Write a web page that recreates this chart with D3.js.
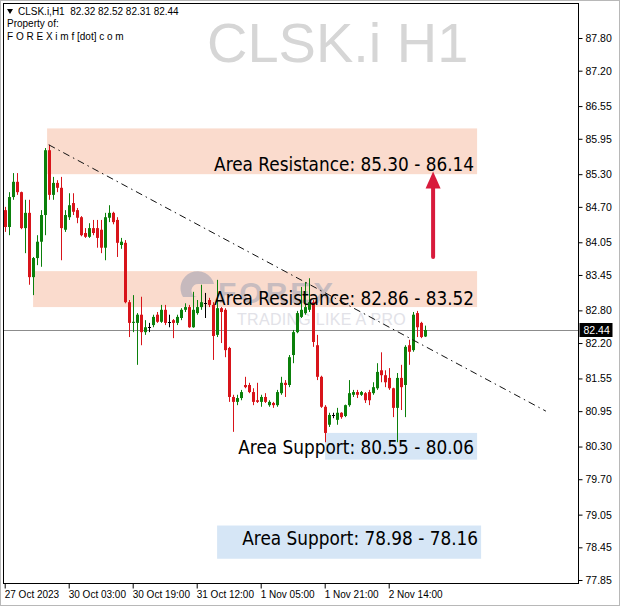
<!DOCTYPE html>
<html><head><meta charset="utf-8">
<script src="https://cdn.jsdelivr.net/npm/d3@7/dist/d3.min.js"></script>
<style>
html,body{margin:0;padding:0;background:#fff;}
svg{display:block;}
</style></head>
<body>
<svg id="c" width="620" height="606" font-family="Liberation Sans, Arial, sans-serif"></svg>
<script>
// ---- data ----
const opens  = [84.64,84.33,84.88,85.16,84.97,84.31,84.59,83.41,83.76,84.06,84.55,85.74,84.92,85.14,85.05,84.28,84.51,84.77,84.64,84.51,84.22,84.15,84.31,84.31,84.28,83.95,84.50,84.59,84.46,84.00,
84.04,82.95,82.57,82.57,82.72,82.40,82.49,82.53,82.72,82.59,82.81,82.59,82.62,82.57,82.66,82.81,82.86,82.49,82.75,82.86,82.93,82.99,82.90,82.35,82.84,82.81,82.11,81.21,81.12,81.19,
81.43,81.43,81.30,81.15,81.12,81.21,81.06,81.10,81.06,81.28,81.47,81.43,81.98,82.40,82.68,82.75,82.81,82.95,82.16,81.58,81.03,80.70,80.88,80.79,80.92,80.86,81.06,81.25,81.30,81.25,
81.28,81.30,81.28,81.37,81.70,81.61,81.56,81.37,81.01,81.56,81.43,82.16,82.07,82.75,82.57,82.32];
const highs  = [84.70,84.97,85.32,85.32,84.98,84.83,84.83,83.78,84.18,84.64,85.78,85.84,85.25,85.19,85.25,84.64,84.95,84.95,84.68,84.53,84.31,84.40,84.46,84.46,84.46,84.59,84.73,84.61,84.51,84.13,
84.09,82.99,83.08,82.75,83.05,82.62,82.57,82.72,82.77,82.90,82.90,82.72,82.64,82.72,82.84,82.93,82.90,83.14,82.99,83.27,83.12,83.03,82.95,83.36,82.86,82.84,82.13,81.25,81.25,81.34,
81.58,81.47,81.37,81.47,81.25,81.28,81.15,81.12,81.34,81.58,81.52,81.98,82.44,82.79,83.23,83.32,83.39,82.99,82.35,81.60,81.06,80.92,80.92,81.01,80.93,81.07,81.52,81.34,81.34,81.32,
81.30,81.34,81.48,81.83,82.03,81.70,81.74,81.38,81.65,81.80,82.16,82.26,82.77,82.79,82.59,82.52];
const lows   = [84.24,84.18,84.83,84.92,84.29,83.85,83.27,83.08,83.63,83.60,84.18,84.83,84.83,84.97,83.72,84.24,84.46,84.55,84.40,84.16,84.13,84.13,84.18,83.95,83.85,83.72,84.42,84.38,83.78,83.93,
82.93,82.31,82.40,81.80,82.16,82.35,82.40,82.49,82.57,82.57,82.53,82.49,82.29,82.53,82.62,82.77,82.48,82.48,82.72,82.81,82.66,82.86,81.89,82.31,82.20,81.94,81.12,80.57,81.06,81.15,
81.37,81.28,81.06,81.10,81.03,81.10,81.03,81.01,81.03,81.25,81.21,81.39,81.83,82.38,82.66,82.72,82.77,82.13,81.52,81.01,80.38,80.66,80.82,80.70,80.81,80.84,81.03,81.21,81.19,81.23,
81.10,81.06,81.25,81.34,81.48,81.39,81.34,80.84,80.38,80.97,80.84,81.80,82.04,82.31,82.29,82.31];
const closes = [84.33,84.88,85.16,84.97,84.31,84.59,83.41,83.76,84.06,84.55,85.74,84.92,85.14,85.05,84.31,84.55,84.73,84.61,84.50,84.18,84.15,84.31,84.22,84.13,83.95,84.51,84.59,84.42,84.04,84.06,
82.95,82.57,82.59,82.72,82.40,82.49,82.49,82.68,82.59,82.81,82.57,82.59,82.57,82.68,82.81,82.86,82.49,82.81,82.86,82.95,82.93,82.90,82.33,82.84,82.77,82.07,81.21,81.12,81.19,81.30,
81.39,81.30,81.12,81.12,81.21,81.12,81.12,81.06,81.30,81.47,81.43,81.94,82.40,82.75,82.81,82.86,82.95,82.22,81.58,81.03,80.55,80.88,80.88,80.92,80.84,81.06,81.28,81.30,81.25,81.30,
81.15,81.15,81.39,81.67,81.61,81.48,81.37,81.01,81.56,81.39,82.13,82.04,82.72,82.49,82.31,82.44];

const priceTicks = [87.80,87.20,86.55,85.95,85.30,84.70,84.05,83.45,82.80,82.20,81.55,80.95,80.30,79.70,79.05,78.45,77.85];
const timeTickIdx = [0,16,32,48,64,80,96];
const timeTickLabels = ["27 Oct 2023","30 Oct 03:00","30 Oct 19:00","31 Oct 12:00","1 Nov 05:00","1 Nov 21:00","2 Nov 14:00"];

// zones
const zoneNames  = ["Area Resistance: 85.30 - 86.14","Area Resistance: 82.86 - 83.52","Area Support: 80.55 - 80.06","Area Support: 78.98 - 78.16"];
const zoneKinds  = ["res","res","sup","sup"];
const zoneStart  = [10.6, 7.1, 80.1, 53.1];
const zoneEnd    = [118.1, 118.1, 118.1, 119.1];
const zoneTop    = [86.14, 83.52, 80.55, 78.85];
const zoneBottom = [85.30, 82.86, 80.06, 78.24];
const labelPrice = [85.33, 82.86, 80.12, 78.45];

const trendIdx   = [11, 135.3];
const trendPrice = [85.84, 80.95];
const arrowIdx = 107.1, arrowFrom = 83.78, arrowTo = 85.35;
const lastPrice = 82.44;

(function(){
// ---- scales ----
const svg = d3.select("#c");
const L = 3.5, R = 578.5, T = 3.5, B = 583.5;
const y = d3.scaleLinear().domain([77.85, 87.80]).range([580, 38]);
const x = d3.scaleLinear().domain([0, 105]).range([4.7, 424.7]);

// outer frame
svg.append("rect").attr("x",0.5).attr("y",0.5).attr("width",619).attr("height",605).attr("fill","#fff").attr("stroke","#b8b8b8");

svg.append("defs").append("clipPath").attr("id","plot").append("rect")
  .attr("x",L).attr("y",T).attr("width",R-L).attr("height",B-T);
const g = svg.append("g").attr("clip-path","url(#plot)");

// watermark
g.append("text").attr("x",207).attr("y",62).attr("font-size",56).attr("fill","#d6d6d6").text("CLSK.i H1");

// zones
zoneNames.forEach((n,i)=>{
  g.append("rect").attr("x",x(zoneStart[i])).attr("y",y(zoneTop[i]))
    .attr("width",x(zoneEnd[i])-x(zoneStart[i])).attr("height",y(zoneBottom[i])-y(zoneTop[i]))
    .attr("fill", zoneKinds[i]==="res" ? "#fadbcd" : "#d6e6f6");
});

// forex logo watermark
const wm = g.append("g").attr("opacity",0.6);
wm.append("path").attr("d","M183,297 A17,17 0 1 1 214,284 L199,284 A5,5 0 0 0 197,297 Z").attr("fill","#a4a4b4");
wm.append("text").attr("x",218).attr("y",303).attr("font-size",30).attr("font-weight","bold").attr("letter-spacing",3).attr("fill","#a8a8b6").text("FOREX");
g.append("text").attr("x",237).attr("y",325).attr("font-size",16).attr("letter-spacing",0.3).attr("fill","#e2e2e8").text("TRADING LIKE A PRO");

// last price line
g.append("line").attr("x1",L).attr("x2",R).attr("y1",Math.round(y(lastPrice))+0.5).attr("y2",Math.round(y(lastPrice))+0.5)
  .attr("stroke","#8c8c8c").attr("stroke-width",1);

// candles
const data = opens.map((o,i)=>({i,o,h:highs[i],l:lows[i],c:closes[i]}));
const colOf = d => d.c>d.o ? "#0b800b" : (d.c<d.o ? "#d8141a" : "#000");
const cg = g.append("g");
data.forEach(d=>{
  const cx = Math.round(x(d.i));
  const col = colOf(d);
  cg.append("line").attr("x1",cx+0.5).attr("x2",cx+0.5).attr("y1",y(d.h)).attr("y2",y(d.l)).attr("stroke",col).attr("stroke-width",1);
  const t = y(Math.max(d.o,d.c)), b = y(Math.min(d.o,d.c));
  if (d.c===d.o) {
    cg.append("line").attr("x1",cx-1).attr("x2",cx+2).attr("y1",Math.round(t)+0.5).attr("y2",Math.round(t)+0.5).attr("stroke",col);
  } else {
    cg.append("rect").attr("x",cx-1).attr("width",3).attr("y",t).attr("height",Math.max(1,b-t)).attr("fill",col);
  }
});

// trendline
g.append("line").attr("x1",x(trendIdx[0])).attr("y1",y(trendPrice[0])).attr("x2",x(trendIdx[1])).attr("y2",y(trendPrice[1]))
  .attr("stroke","#111").attr("stroke-width",1).attr("stroke-dasharray","7,4,1.5,4");

// arrow
const ax = x(arrowIdx);
g.append("line").attr("x1",ax).attr("x2",ax).attr("y1",y(arrowFrom)).attr("y2",y(arrowTo)+14)
  .attr("stroke","#d81b3c").attr("stroke-width",4).attr("stroke-linecap","round");
g.append("path").attr("d",`M${ax},${y(arrowTo)} L${ax-7.5},${y(arrowTo)+17} L${ax+7.5},${y(arrowTo)+17} Z`).attr("fill","#d81b3c");

// zone labels (Tahoma-like proportions)
const labels = zoneNames.map((n,i)=>
  g.append("text").attr("x", x(zoneEnd[i]) - 3).attr("y", y(labelPrice[i]) - 2)
    .attr("text-anchor","end").attr("font-size",18.4)
    .attr("font-family","'DejaVu Sans Condensed','DejaVu Sans',sans-serif")
    .attr("fill","#000").text(n));
const w0 = labels[0].node().getComputedTextLength();
if (w0 > 0 && Math.abs(w0 - 260) > 2) {
  const fs = 18.4 * 260 / w0;
  labels.forEach(t=>t.attr("font-size", fs));
}

// frame & axes
svg.append("rect").attr("x",L).attr("y",T).attr("width",R-L).attr("height",B-T)
  .attr("fill","none").attr("stroke","#000");

const yAxis = d3.axisRight(y).tickValues(priceTicks).tickSize(4).tickPadding(3).tickFormat(d3.format(".2f"));
const ya = svg.append("g").attr("transform",`translate(${R},0)`).call(yAxis);
ya.select(".domain").remove();
ya.attr("font-family",null);
ya.selectAll("text").attr("font-size",10.5).attr("fill","#000");
ya.selectAll("line").attr("stroke","#000");

const xAxis = d3.axisBottom(x).tickValues(timeTickIdx).tickSize(5).tickFormat((d,i)=>timeTickLabels[i]);
const xa = svg.append("g").attr("transform",`translate(0,${B})`).call(xAxis);
xa.select(".domain").remove();
xa.attr("font-family",null);
xa.selectAll("text").attr("font-size",10).attr("fill","#000").attr("text-anchor","start").attr("dx",-0.5).attr("dy","0.6em");
xa.selectAll("line").attr("stroke","#000");

// last price tag
const ly = Math.round(y(lastPrice));
svg.append("rect").attr("x",R+1).attr("y",ly-7).attr("width",33).attr("height",14).attr("fill","#000");
svg.append("text").attr("x",R+5).attr("y",ly+4).attr("font-size",10.5).attr("fill","#fff").text(d3.format(".2f")(lastPrice));

// header
svg.append("path").attr("d","M7,9 L13,9 L10,14 Z").attr("fill","#000");
svg.append("text").attr("x",18).attr("y",15).attr("font-size",10).attr("fill","#000")
  .style("white-space","pre").text("CLSK.i,H1  82.32 82.52 82.31 82.44");
svg.append("text").attr("x",7).attr("y",27).attr("font-size",10).attr("fill","#000").text("Property of:");
svg.append("text").attr("x",7).attr("y",40).attr("font-size",10).attr("fill","#000").text("F O R E X i m f [dot] c o m");
})();
</script>
</body></html>
